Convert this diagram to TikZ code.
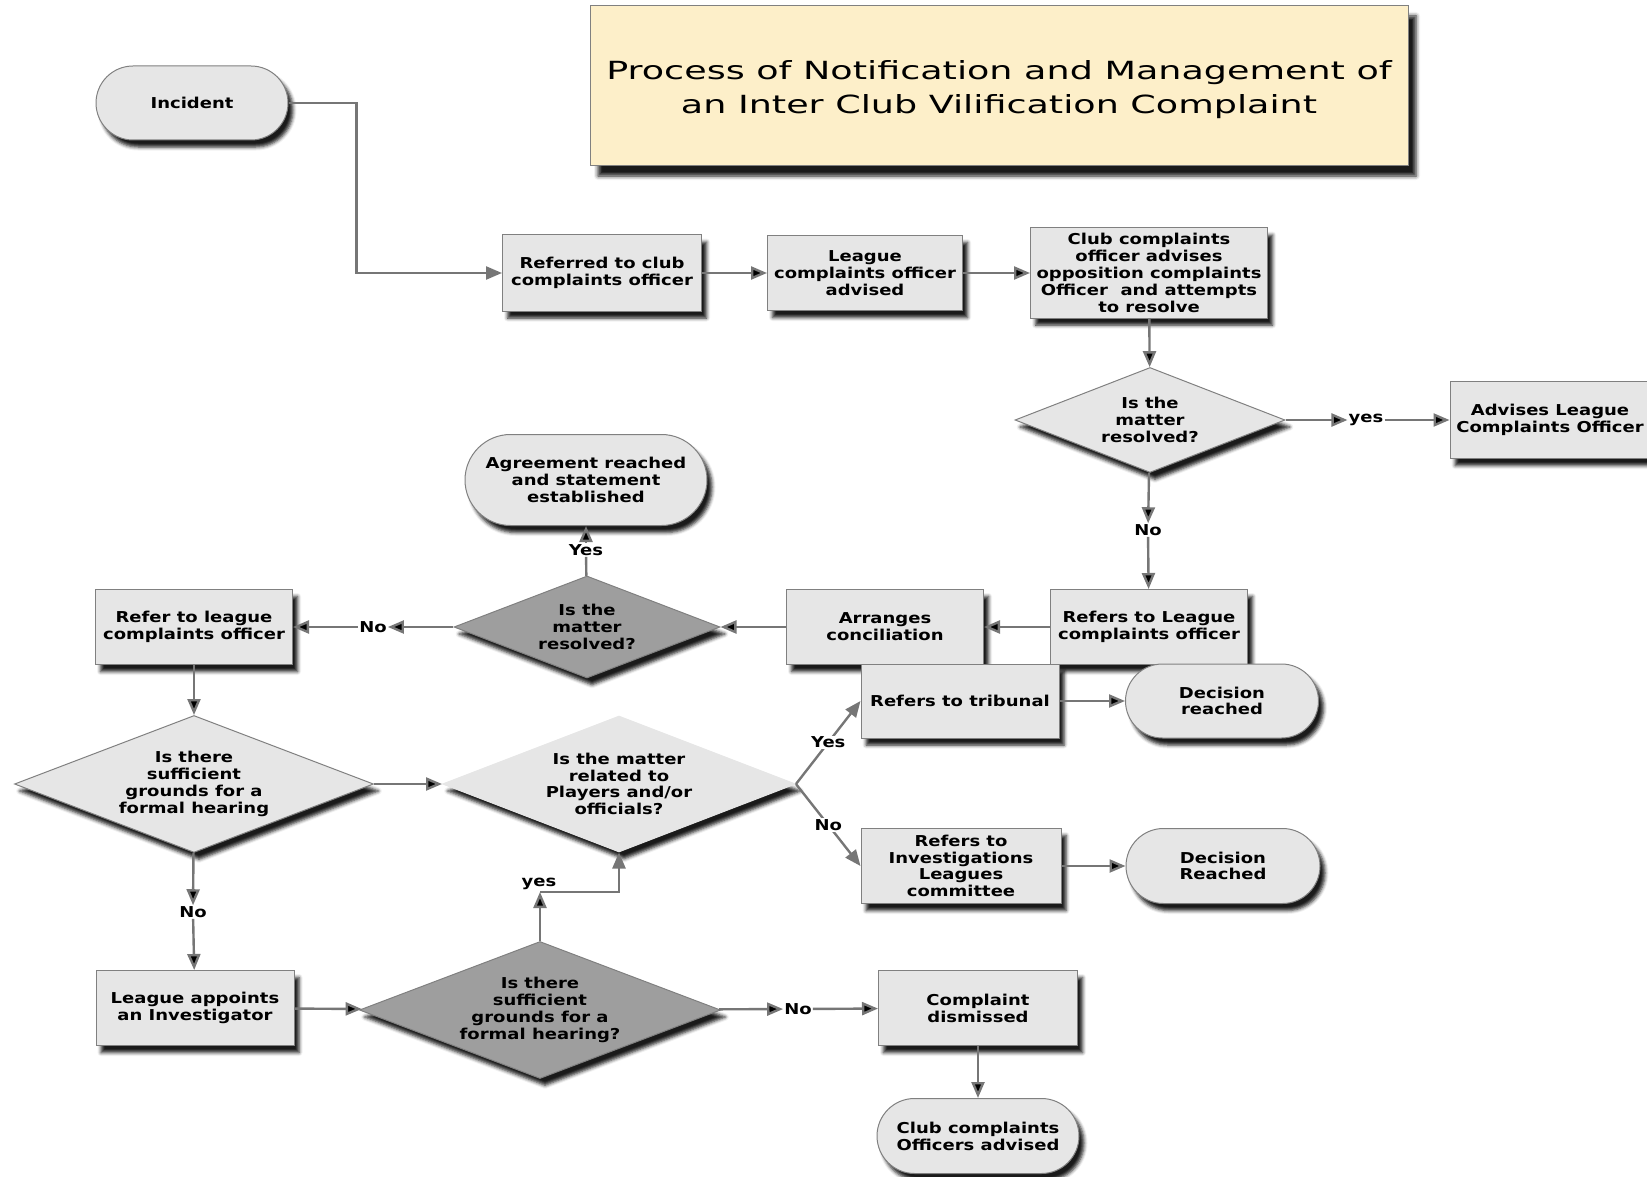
\documentclass[tikz,border=0pt]{standalone}
\usepackage{fontspec}
\newfontfamily\boxfont[FakeStretch=1.2]{DejaVu Sans}
\newfontfamily\titlefont[FakeStretch=1.46]{DejaVu Sans}
\usetikzlibrary{arrows.meta}
\usetikzlibrary{shapes.geometric,shapes.misc}
\usetikzlibrary{shadows.blur}

\definecolor{boxgrey}{RGB}{230,230,230}
\definecolor{darkgrey}{RGB}{158,158,158}
\definecolor{edgegrey}{RGB}{128,128,128}
\definecolor{linegrey}{RGB}{118,118,118}
\definecolor{titlefill}{RGB}{253,239,201}

\begin{document}
\begin{tikzpicture}[x=1pt,y=-1pt,>={Triangle[length=16pt,width=13pt]},
    shade/.style={blur shadow={shadow xshift=5pt,shadow yshift=-7pt,shadow blur radius=3.5pt,shadow opacity=90}},
    main node/.style={rectangle,draw=edgegrey,line width=1pt,fill=boxgrey,align=center,inner sep=1pt,
                      font=\boxfont\bfseries\fontsize{15}{16.8}\selectfont,shade},
    end node/.style={main node,rounded rectangle},
    ask node/.style={main node,diamond,aspect=2.6,inner sep=0pt},
    dark node/.style={ask node,fill=darkgrey},
    lbl/.style={font=\boxfont\bfseries\fontsize{15}{16.8}\selectfont,inner sep=1pt},
    flow/.style={->,draw=linegrey,line width=2.4pt}]

  \useasboundingbox (0,0) rectangle (1647,1177);

  % title
  \node[rectangle,draw=edgegrey,line width=1pt,fill=titlefill,minimum width=818pt,minimum height=160pt,
        blur shadow={shadow xshift=8pt,shadow yshift=-10pt,shadow blur radius=4pt,shadow opacity=90}]
        (title) at (999,86) {};
  \node[align=center,font=\titlefont\fontsize{25}{34}\selectfont] (titletext) at (999,90)
        {Process of Notification and Management of\\an Inter Club Vilification Complaint};

  \node[end node,minimum width=194pt,minimum height=74pt] (1) at (192,103) {Incident};
  \node[main node,minimum width=199pt,minimum height=76pt] (2) at (602,273) {Referred to club\\complaints officer};
  \node[main node,minimum width=195pt,minimum height=75pt] (3) at (865,273) {League\\complaints officer\\advised};
  \node[main node,minimum width=237pt,minimum height=90pt] (4) at (1149,273) {Club complaints\\officer advises\\opposition complaints\\Officer \ and attempts\\to resolve};
  \node[ask node,minimum width=270pt,minimum height=105pt] (5) at (1150,420) {Is the\\matter\\resolved?};
  \node[main node,minimum width=200pt,minimum height=77pt] (6) at (1550,420) {Advises League\\Complaints Officer};
  \node[main node,minimum width=197pt,minimum height=75pt] (7) at (1149,627) {Refers to League\\complaints officer};
  \node[main node,minimum width=197pt,minimum height=75pt] (8) at (885,627) {Arranges\\conciliation};
  \node[dark node,minimum width=266pt,minimum height=102pt] (9) at (587,627) {Is the\\matter\\resolved?};
  \node[end node,minimum width=244pt,minimum height=91pt] (10) at (586,480) {Agreement reached\\and statement\\established};
  \node[main node,minimum width=197pt,minimum height=75pt] (11) at (194,627) {Refer to league\\complaints officer};
  \node[ask node,minimum width=359pt,minimum height=137pt] (12) at (194,784) {Is there\\sufficient\\grounds for a\\formal hearing};
  \node[ask node,draw=boxgrey,minimum width=353pt,minimum height=136pt] (13) at (619,784) {Is the matter\\related to\\Players and/or\\officials?};
  \node[main node,minimum width=198pt,minimum height=74pt] (14) at (960,701) {Refers to tribunal};
  \node[end node,minimum width=195pt,minimum height=74pt] (15) at (1222,701) {Decision\\reached};
  \node[main node,minimum width=200pt,minimum height=75pt] (16) at (961,866) {Refers to\\Investigations\\Leagues\\committee};
  \node[end node,minimum width=196pt,minimum height=75pt] (17) at (1223,866) {Decision\\Reached};
  \node[main node,minimum width=198pt,minimum height=75pt] (18) at (195,1008) {League appoints\\an Investigator};
  \node[dark node,minimum width=361pt,minimum height=137pt] (19) at (540,1010) {Is there\\sufficient\\grounds for a\\formal hearing?};
  \node[main node,minimum width=199pt,minimum height=75pt] (20) at (978,1008) {Complaint\\dismissed};
  \node[end node,minimum width=204pt,minimum height=75pt] (21) at (978,1136) {Club complaints\\Officers advised};

  % answers
  \node[lbl] (yes1) at (1366,420) {yes};
  \node[lbl] (no1) at (1148,530) {No};
  \node[lbl] (no2) at (373,627) {No};
  \node[lbl] (yes2) at (586,550) {Yes};
  \node[lbl] (no3) at (193,912) {No};
  \node[lbl] (no4) at (798,1009) {No};
  \node[lbl] (yes3) at (539,884) {yes};
  \coordinate (bend) at (540,892);

  \draw[flow] (1.east) -- ++(68,0) |- (2.west);
  \path[flow]
    (2) edge (3)
    (3) edge (4)
    (4) edge (5)
    (5) edge (yes1)
    (yes1) edge (6)
    (5) edge (no1)
    (no1) edge (7)
    (7) edge (8)
    (8) edge (9)
    (9) edge (no2)
    (no2) edge (11)
    (yes2) edge (10)
    (11) edge (12)
    (12) edge (13)
    (12) edge (no3)
    (no3) edge (18)
    (14) edge (15)
    (16) edge (17)
    (18) edge (19)
    (19) edge (no4)
    (no4) edge (20)
    (20) edge (21)
    (19) edge (bend);
  \draw[flow,-] (9) -- (yes2);
  \draw[flow] (bend) -| (13);
  \draw[flow] (13.east) -- node[lbl,fill=white] {Yes} (14.west);
  \draw[flow] (13.east) -- node[lbl,fill=white] {No} (16.west);
\end{tikzpicture}
\end{document}
